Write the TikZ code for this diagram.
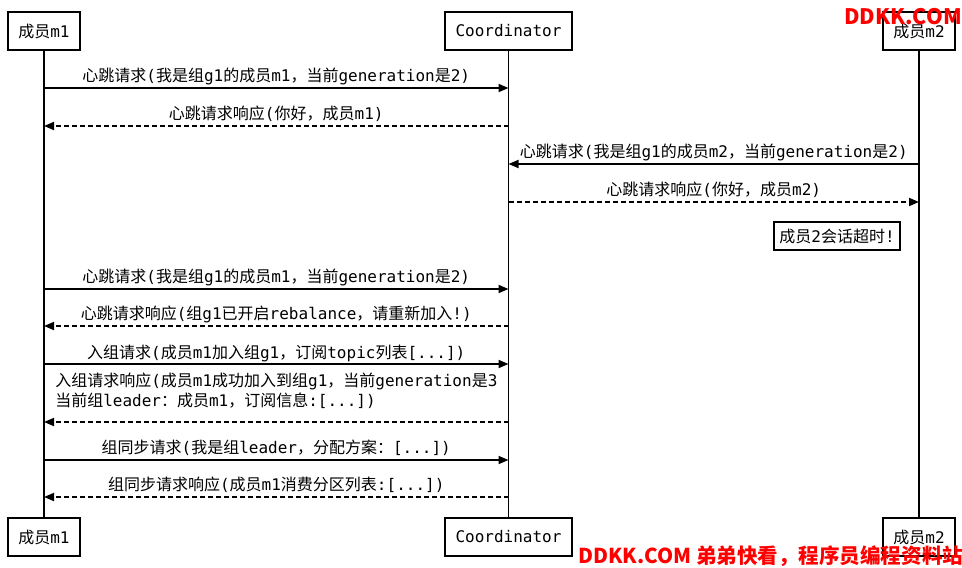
\documentclass[tikz,border=0pt]{standalone}
\usepackage{fontspec}
\usepackage{tikz}
\usetikzlibrary{arrows.meta}
\setmainfont{DejaVu Sans Mono}
\newfontfamily\latinfont{DejaVu Sans Mono}
\newfontfamily\hanfont{Noto Sans CJK SC}
\newfontfamily\markfont{Noto Sans CJK SC}
% switch to the CJK font for Han characters and fullwidth punctuation
\XeTeXinterchartokenstate=1
\newXeTeXintercharclass\hanclass
\newcount\hancnt
\def\sethan#1#2{\hancnt=#1 \loop\XeTeXcharclass\hancnt=\hanclass\advance\hancnt by 1 \ifnum\hancnt<#2 \repeat}
\sethan{"3000}{"3040}
\sethan{"4E00}{"A000}
\sethan{"FF00}{"FFF0}
\XeTeXinterchartoks 0 \hanclass = {\hanfont}
\XeTeXinterchartoks 4095 \hanclass = {\hanfont}
\XeTeXinterchartoks \hanclass 0 = {\latinfont}
\XeTeXinterchartoks \hanclass 4095 = {\latinfont}
\newcommand\wmfont{\XeTeXinterchartokenstate=0\relax\markfont\bfseries}
\definecolor{wm}{HTML}{FF0000}
\tikzset{
  part/.style={draw, line width=1.5pt, minimum height=28.5pt, inner xsep=8pt, font=\fontsize{12}{15}\selectfont},
  life/.style={line width=1.2pt},
  req/.style={line width=1.3pt, -{Triangle[length=7.5pt,width=6pt]}},
  resp/.style={req, dash pattern=on 3.75pt off 2.25pt},
  lab/.style={font=\fontsize{12}{15}\selectfont, anchor=base, yshift=5.2pt, inner sep=0pt},
  note/.style={draw, line width=1.3pt, minimum height=21pt, inner xsep=4pt, font=\fontsize{12}{15}\selectfont},
  wmark/.style={text=wm, inner sep=0pt, font=\wmfont\fontsize{#1}{18}\selectfont}
}
\begin{document}
\begin{tikzpicture}[x=0.75pt,y=-0.75pt]
  \useasboundingbox (0,0) rectangle (962,567);
  % participants
  \node[part] (m1top) at (44,31) {成员m1};
  \node[part] (cotop) at (508.5,31) {Coordinator};
  \node[part] (m2top) at (919,31) {成员m2};
  \node[part] (m1bot) at (44,537) {成员m1};
  \node[part] (cobot) at (508.5,537) {Coordinator};
  \node[part] (m2bot) at (919,537) {成员m2};
  \draw[life] (m1top.south) -- (m1bot.north);
  \draw[life] (cotop.south) -- (cobot.north);
  \draw[life] (m2top.south) -- (m2bot.north);

  % message rows
  \coordinate (r1) at (0,88);
  \coordinate (r2) at (0,126);
  \coordinate (r3) at (0,164);
  \coordinate (r4) at (0,202);
  \coordinate (r5) at (0,289);
  \coordinate (r6) at (0,326);
  \coordinate (r7) at (0,364);
  \coordinate (r8) at (0,422);
  \coordinate (r9) at (0,460);
  \coordinate (r10) at (0,497);

  \draw[req] (m1top |- r1) -- (cotop |- r1) node[lab,midway] {心跳请求(我是组g1的成员m1，当前generation是2)};
  \draw[resp] (cotop |- r2) -- (m1top |- r2) node[lab,midway] {心跳请求响应(你好，成员m1)};
  \draw[req] (m2top |- r3) -- (cotop |- r3) node[lab,midway] {心跳请求(我是组g1的成员m2，当前generation是2)};
  \draw[resp] (cotop |- r4) -- (m2top |- r4) node[lab,midway] {心跳请求响应(你好，成员m2)};
  \node[note] (timeout) at (837,236) {成员2会话超时!};
  \draw[req] (m1top |- r5) -- (cotop |- r5) node[lab,midway] {心跳请求(我是组g1的成员m1，当前generation是2)};
  \draw[resp] (cotop |- r6) -- (m1top |- r6) node[lab,midway] {心跳请求响应(组g1已开启rebalance，请重新加入!)};
  \draw[req] (m1top |- r7) -- (cotop |- r7) node[lab,midway,yshift=-0.8pt] {入组请求(成员m1加入组g1，订阅topic列表[...])};
  \draw[resp] (cotop |- r8) -- (m1top |- r8);
  \node[lab, align=left, anchor=north west, yshift=0pt] (joinresp) at (55,380) {入组请求响应(成员m1成功加入到组g1，当前generation是3\\当前组leader：成员m1，订阅信息:[...])};
  \draw[req] (m1top |- r9) -- (cotop |- r9) node[lab,midway] {组同步请求(我是组leader，分配方案：[...])};
  \draw[resp] (cotop |- r10) -- (m1top |- r10) node[lab,midway] {组同步请求响应(成员m1消费分区列表:[...])};

  % watermark
  \node[wmark=16, anchor=north east] (wmtop) at (962,8) {DDKK.COM};
  \node[wmark=15.4, anchor=base west] (wmbot) at (578,563) {DDKK.COM 弟弟快看，程序员编程资料站};
\end{tikzpicture}
\end{document}
